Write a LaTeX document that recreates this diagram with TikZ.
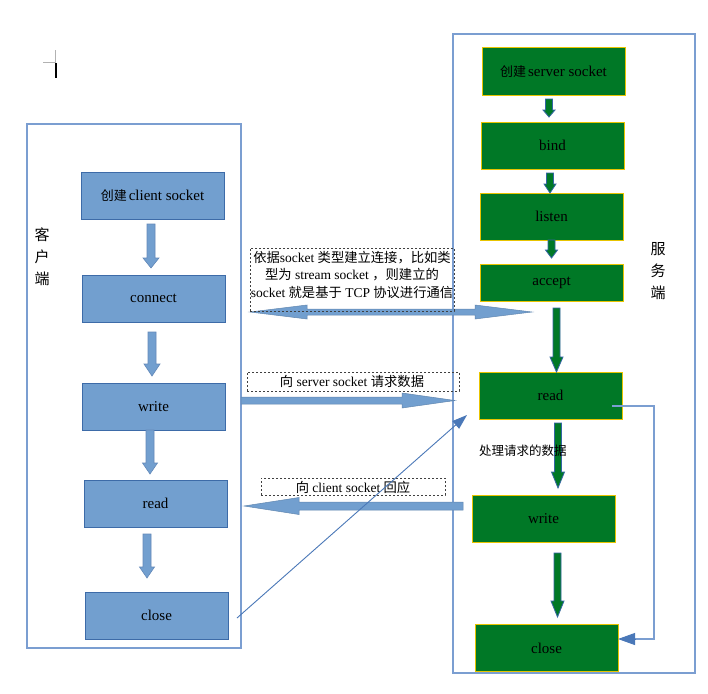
\documentclass[tikz,border=0pt]{standalone}
\usepackage{fontspec}
\setmainfont{Liberation Serif}
\newfontfamily\cjk{Noto Sans CJK SC}
\usetikzlibrary{arrows.meta}
\definecolor{cfill}{HTML}{729FCF}
\definecolor{cborder}{HTML}{3D6BA8}
\definecolor{gfill}{HTML}{007826}
\definecolor{gborder}{HTML}{E8C400}
\definecolor{framec}{HTML}{7B9ED1}
\definecolor{linec}{HTML}{4A78B8}
\definecolor{garrowb}{HTML}{3465A4}
\newcommand\ckb[1]{{\cjk\fontsize{13}{16}\selectfont #1}\hspace{2pt}}
\newcommand\ckl[1]{{\cjk\fontsize{13.3}{17.5}\selectfont #1}}
% vertical block arrow: [style]{x}{ytail}{ybase}{ytip}{shaft}{head}
\newcommand\vblk[7][]{\filldraw[#1] (#2-#6/2,#3) -- (#2+#6/2,#3) -- (#2+#6/2,#4) -- (#2+#7/2,#4) -- (#2,#5) -- (#2-#7/2,#4) -- (#2-#6/2,#4) -- cycle;}
% horizontal block arrow: [style]{y}{xtail}{xbase}{xtip}{shaft}{head}
\newcommand\hblk[7][]{\filldraw[#1] (#3,#2-#6/2) -- (#4,#2-#6/2) -- (#4,#2-#7/2) -- (#5,#2) -- (#4,#2+#7/2) -- (#4,#2+#6/2) -- (#3,#2+#6/2) -- cycle;}
\begin{document}
\begin{tikzpicture}[x=1pt,y=-1pt,
  cbox/.style={draw=cborder, fill=cfill, line width=0.9pt, minimum width=143pt, minimum height=47pt, inner sep=0pt, font=\fontsize{15}{18}\selectfont},
  gbox/.style={draw=gborder, fill=gfill, line width=1pt, minimum width=143pt, minimum height=47pt, inner sep=0pt, font=\fontsize{15}{18}\selectfont},
  frame/.style={draw=framec, line width=1.1pt},
  cblk/.style={fill=cfill, draw=cborder!80, line width=0.6pt},
  gblk/.style={fill=gfill, draw=garrowb, line width=0.8pt},
  hblkstyle/.style={fill=cfill, draw=cfill!85!black, line width=0.5pt},
  dbox/.style={draw=black!75, dashed, dash pattern=on 2pt off 2pt, line width=0.7pt, inner sep=0pt},
  lbl/.style={font=\fontsize{13.5}{17.5}\selectfont, inner sep=0pt},
  side/.style={font=\cjk\fontsize{15}{22}\selectfont, align=center, inner sep=0pt},
  thinln/.style={draw=linec, line width=0.9pt},
]
\useasboundingbox (0,0) rectangle (708,693);
\fill[white] (0,0) rectangle (708,693);

% page marks
\draw[black!30, line width=0.8pt] (43,62) -- (55,62) -- (55,50);
\draw[black, line width=1.8pt] (56,63) -- (56,78);

% frames
\draw[frame] (27,124) rectangle (241,648);
\draw[frame] (453,34) rectangle (695,673);

% side labels
\node[side] (clbl) at (42,257) {客\\户\\端};
\node[side] (slbl) at (658,271) {服\\务\\端};

% client boxes
\node[cbox] (cc)  at (152.5,195.5) {\ckb{创建}client socket};
\node[cbox] (con) at (153.5,298.5) {connect};
\node[cbox] (cw)  at (153.5,406.5) {write};
\node[cbox] (cr)  at (155.5,503.5) {read};
\node[cbox] (ccl) at (156.5,615.5) {close};

% server boxes
\node[gbox] (sc)  at (553.5,71.5) {\ckb{创建}server socket};
\node[gbox] (sb)  at (552.5,145.5) {bind};
\node[gbox] (sl)  at (551.5,216.5) {listen};
\node[gbox, minimum height=37pt] (sa) at (551.5,282.5) {accept};
\node[gbox] (sr)  at (550.5,395.5) {read};
\node[gbox] (sw)  at (543.5,518.5) {write};
\node[gbox] (scl) at (546.5,648) {close};

% client block arrows
\vblk[cblk]{151}{224}{258}{268}{8}{16}
\vblk[cblk]{152}{332}{364}{376}{8}{16}
\vblk[cblk]{150}{430}{463}{474}{8}{15}
\vblk[cblk]{147}{534}{567}{578}{8}{15}

% server block arrows
\vblk[gblk]{549}{99}{110}{117}{7}{12}
\vblk[gblk]{550}{173}{184}{193}{7}{12}
\vblk[gblk]{551.5}{240}{250}{258}{7}{12}
\vblk[gblk]{556.5}{308}{357}{372}{7}{13}
\vblk[gblk]{558}{423}{472}{488}{7}{13}
\vblk[gblk]{557.5}{553}{601}{617}{7}{13}

% horizontal block arrows
\filldraw[hblkstyle] (250,312) -- (307,305) -- (307,309) -- (475,309) -- (475,305) -- (532,312) -- (475,319) -- (475,315) -- (307,315) -- (307,319) -- cycle;
\hblk[hblkstyle]{400.5}{241}{402}{455}{7}{15}
\hblk[hblkstyle]{506}{463}{299}{244}{8}{17}

% dashed label boxes
\node[dbox, minimum width=204pt, minimum height=63pt] (d1) at (352,279.5) {};
\node[lbl, align=center] (t1) at (352,274.5) {%
  \ckl{依据}socket \ckl{类型建立连接，比如类}\\
  \ckl{型为} stream socket \ckl{，则建立的}\\
  socket \ckl{就是基于} TCP \ckl{协议进行通信}};
\node[dbox, minimum width=212pt, minimum height=19pt] (d2) at (353,381.5) {};
\node[lbl] (t2) at (352,381) {\ckl{向} server socket \ckl{请求数据}};
\node[dbox, minimum width=184pt, minimum height=17pt] (d3) at (353,486.5) {};
\node[lbl] (t3) at (353,487) {\ckl{向} client socket \ckl{回应}};

\node[inner sep=0pt, font=\cjk\fontsize{12.5}{15}\selectfont, anchor=west] (proc) at (479,451) {处理请求的数据};

% thin connectors
\coordinate (dstart) at (237,618);
\coordinate (dend) at (467,415);
\draw[thinln, -{Triangle[length=15pt,width=10pt]}] (dstart) -- (dend);
\coordinate (rr1) at (612,406);
\coordinate (rr2) at (654,406);
\coordinate (rr3) at (654,639);
\coordinate (rr4) at (618,639);
\draw[thinln, draw=framec, line width=1.2pt] (rr1) -- (rr2) -- (rr3) -- ([xshift=17pt]rr4);
\draw[thinln, -{Triangle[length=17pt,width=12pt]}, draw=linec] ([xshift=17.5pt]rr4) -- (rr4);
\end{tikzpicture}
\end{document}
